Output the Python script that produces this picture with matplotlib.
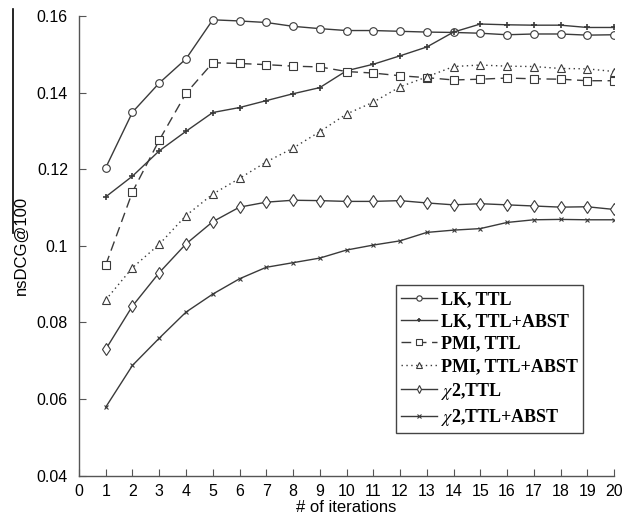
import matplotlib
matplotlib.use("Agg")
import matplotlib.pyplot as plt
from matplotlib.lines import Line2D

iterations = list(range(1, 21))
lk_ttl = [0.1204, 0.1349, 0.1425, 0.1488, 0.1590, 0.1587, 0.1583, 0.1573, 0.1567, 0.1562,
          0.1562, 0.1560, 0.1558, 0.1557, 0.1555, 0.1551, 0.1553, 0.1553, 0.1550, 0.1551]
lk_ttl_abst = [0.1128, 0.1182, 0.1248, 0.1299, 0.1348, 0.1361, 0.1379, 0.1397, 0.1413, 0.1457,
               0.1474, 0.1496, 0.1519, 0.1558, 0.1579, 0.1577, 0.1576, 0.1576, 0.1570, 0.1570]
pmi_ttl = [0.0950, 0.1141, 0.1276, 0.1398, 0.1478, 0.1476, 0.1473, 0.1469, 0.1467, 0.1455,
           0.1451, 0.1444, 0.1439, 0.1433, 0.1435, 0.1438, 0.1436, 0.1435, 0.1431, 0.1431]
pmi_ttl_abst = [0.0859, 0.0943, 0.1004, 0.1079, 0.1135, 0.1176, 0.1219, 0.1255, 0.1298, 0.1344,
                0.1375, 0.1415, 0.1441, 0.1468, 0.1472, 0.1469, 0.1468, 0.1463, 0.1462, 0.1455]
chi_ttl = [0.0730, 0.0843, 0.0930, 0.1005, 0.1063, 0.1101, 0.1114, 0.1119, 0.1118, 0.1116,
           0.1116, 0.1118, 0.1112, 0.1107, 0.1110, 0.1107, 0.1104, 0.1101, 0.1102, 0.1095]
chi_ttl_abst = [0.0579, 0.0688, 0.0759, 0.0827, 0.0874, 0.0914, 0.0944, 0.0956, 0.0968, 0.0989,
                0.1002, 0.1013, 0.1035, 0.1041, 0.1045, 0.1061, 0.1068, 0.1069, 0.1068, 0.1068]

labels = ["LK, TTL", "LK, TTL+ABST", "PMI, TTL", "PMI, TTL+ABST", r"$\chi$2,TTL", r"$\chi$2,TTL+ABST"]
xticks = list(range(0, 21))
yticks = [0.04, 0.06, 0.08, 0.10, 0.12, 0.14, 0.16]
ytick_labels = ["0.04", "0.06", "0.08", "0.1", "0.12", "0.14", "0.16"]

plt.rcParams['mathtext.fontset'] = 'stix'
fig = plt.figure(figsize=(6.23, 5.24), dpi=100)
ax = fig.add_axes([0.1268, 0.0922, 0.8588, 0.8773])

c = '#3a3a3a'
series = [
    (lk_ttl, dict(linestyle='-', marker='o', markersize=5.5, lw=1.0)),
    (lk_ttl_abst, dict(linestyle='-', marker='+', markersize=5, mew=1.2, lw=1.0)),
    (pmi_ttl, dict(linestyle=(0, (7, 4)), marker='s', markersize=5.5, lw=1.0)),
    (pmi_ttl_abst, dict(linestyle=(0, (1, 2.5)), marker='^', markersize=6, lw=1.0)),
    (chi_ttl, dict(linestyle='-', marker='d', markersize=6, lw=1.0)),
    (chi_ttl_abst, dict(linestyle='-', marker='x', markersize=3.5, lw=1.0)),
]
handles = []
for (vals, st), lab in zip(series, labels):
    h, = ax.plot(iterations, vals, color=c, markerfacecolor='white', markeredgecolor=c,
                 mew=st.pop('mew', 0.8), label=lab, **st)
    handles.append(h)

ax.set_xlim(0, 20)
ax.set_ylim(0.04, 0.16)
ax.set_xticks(xticks)
ax.set_yticks(yticks)
ax.set_yticklabels(ytick_labels)
for s in ['top', 'right']:
    ax.spines[s].set_visible(False)
for s in ['left', 'bottom']:
    ax.spines[s].set_color('#555555')
    ax.spines[s].set_linewidth(1.0)
ax.tick_params(direction='in', length=5, color='#555555', labelsize=11.5,
               labelfontfamily='Liberation Sans')
ax.tick_params(axis='x', pad=6)
ax.tick_params(axis='y', pad=8)
ax.set_xlabel("# of iterations", fontsize=12, family='Liberation Sans', labelpad=1)
ax.set_ylabel("nsDCG@100", fontsize=12, family='Liberation Sans', labelpad=6)

leg = ax.legend(handles=handles, loc='lower left', bbox_to_anchor=(0.592, 0.092),
                prop={'family': 'Liberation Serif', 'weight': 'bold', 'size': 13},
                frameon=True, fancybox=False, edgecolor='#444444', framealpha=1,
                handlelength=2.0, handletextpad=0.2, labelspacing=0.3, borderpad=0.3,
                borderaxespad=0, markerscale=0.7)
leg.get_frame().set_linewidth(1.0)

fig.add_artist(Line2D([0.0205, 0.0205], [1 - 9 / 524, 1 - 233 / 524], color='black', lw=1.2,
                      transform=fig.transFigure))

fig.savefig("out.png", dpi=100)
